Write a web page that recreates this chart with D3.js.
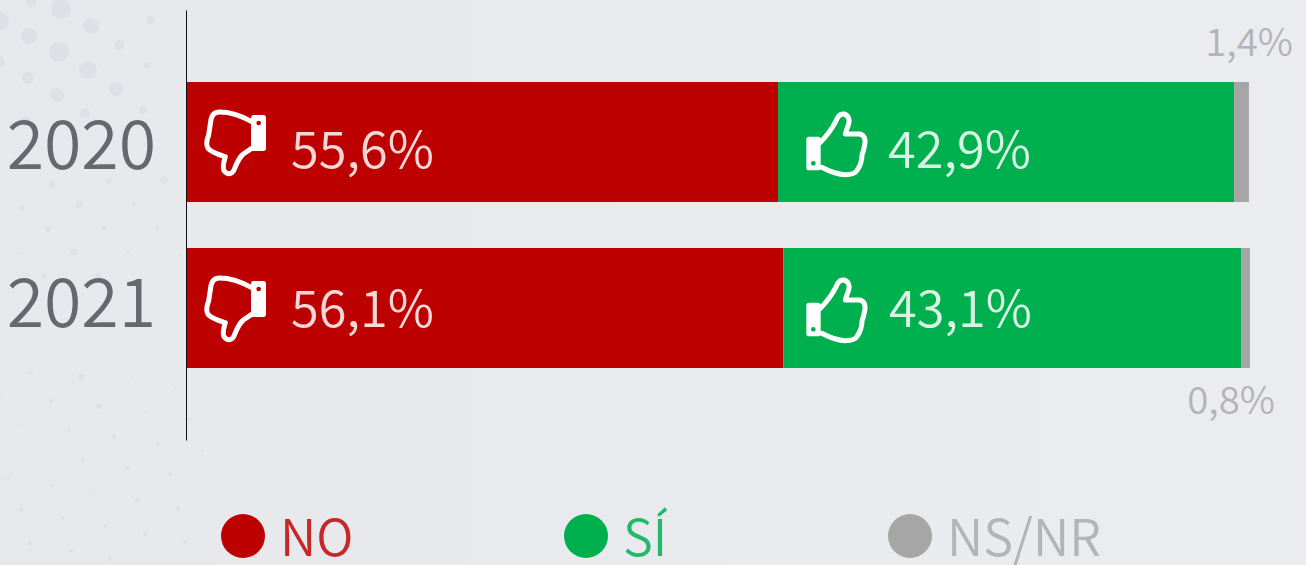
<!DOCTYPE html>
<html><head><meta charset="utf-8">
<style>
html,body{margin:0;padding:0;background:#e8e9ed;overflow:hidden}
svg{display:block}
text{font-family:"Noto Sans CJK JP","Noto Sans",sans-serif;font-weight:350}
</style>
<script src="https://cdn.jsdelivr.net/npm/d3@7"></script>
</head><body><script>
const years = ["2020","2021"];
const noValues = [55.6,56.1];
const siValues = [42.9,43.1];
const nsValues = [1.4,0.8];
const noLabels = ["55,6%","56,1%"];
const siLabels = ["42,9%","43,1%"];
const nsLabels = ["1,4%","0,8%"];
const legendNames = ["NO","SÍ","NS/NR"];
const legendColors = ["#bd0000","#00b04f","#a6a6a6"];
const legendText = ["#c62828","#22b96a","#b3b4b8"];
const bgDots = [[31,1,6],[61,9,10],[0,21,9],[91,26,8],[150,20,4],[29,36,8],[59,52,10],[119,45,5],[0,62,5],[88,70,9],[147,65,3],[28,78,6],[57,95,7],[116,89,7],[85,113,5],[143,110,4],[26,121,5]];
const faintDots = [[52,184,3.5],[109,181,3],[164,180,4],[22,208,2.5],[79,205,3.5],[134,204,2],[48,229,3],[104,228,2.5],[157,229,2],[18,253,1.5],[74,252,3.5],[128,252,1.5],[180,255,1.5],[44,276,2.5],[98,276,3],[150,278,1],
[31,373,2],[81,377,3],[129,382,1.5],[175,388,1],[1,397,1],[51,401,2],[99,406,3],[145,412,1.5],[189,419,1.5],[21,425,1],[69,430,2],[114,437,2.5],[158,444,2],[38,454,1],[83,461,2],[127,468,2],[170,474,2],[202,451,1.5],[8,478,2],[52,485,1.5],[95,493,1.5],[137,501,2.5],[211,484,1],[21,510,2.5],[63,518,2],[105,526,2],[145,534,2.5],[178,509,2.5],[30,543,2.5],[71,551,2],[110,559,2],[185,542,2]];
const W=1306,H=565;
const svg=d3.select("body").append("svg").attr("width",W).attr("height",H);
const grad=svg.append("defs").append("linearGradient").attr("id","bg").attr("x1",0).attr("x2",1);
grad.append("stop").attr("offset",0).attr("stop-color","#e7e8ec");
grad.append("stop").attr("offset",1).attr("stop-color","#ebecf0");
svg.append("rect").attr("width",W).attr("height",H).attr("fill","url(#bg)");
svg.append("g").selectAll("circle").data(bgDots).join("circle")
  .attr("cx",d=>d[0]).attr("cy",d=>d[1]).attr("r",d=>d[2]).attr("fill","#dfe0e5");
svg.append("g").selectAll("circle").data(faintDots).join("circle")
  .attr("cx",d=>d[0]).attr("cy",d=>d[1]).attr("r",d=>d[2]).attr("fill","#e0e1e6");

const x=d3.scaleLinear().domain([0,100]).range([187,1250]);
const y=d3.scaleBand().domain(years).range([10,440]).paddingInner(46/166).paddingOuter(72/166);
const series=[{v:noValues,c:legendColors[0]},{v:siValues,c:legendColors[1]},{v:nsValues,c:legendColors[2]}];
series.forEach((s,si)=>{
  svg.append("g").selectAll("rect").data(years).join("rect")
    .attr("x",(d,i)=>{let a=0;for(let k=0;k<si;k++)a+=series[k].v[i];return x(a);})
    .attr("y",d=>y(d)).attr("height",y.bandwidth())
    .attr("width",(d,i)=>x(s.v[i])-x(0)).attr("fill",s.c);
});
const axis=svg.append("g").attr("transform","translate(186,0)").call(d3.axisLeft(y).tickSize(0).tickPadding(30));
axis.select(".domain").attr("stroke","#111").attr("stroke-width",1);
axis.selectAll("text").attr("font-size",68).attr("fill","#66686d").attr("font-family",null).attr("dy",(d,i)=>i==0?"0.40em":"0.28em");

const downHand="M215 125 C185 108 150 96 118 96 C100 96 94 108 92 125 C90 140 88 150 86 165 C80 180 78 195 84 205 C95 218 120 225 136 230 C132 245 126 258 132 272 C140 284 155 285 162 270 C170 250 175 235 190 222 L215 205";
const upHand="M150 158 C168 140 185 118 197 95 C203 78 210 70 222 72 C236 76 240 90 236 102 C232 115 228 122 226 132 L268 132 C284 134 288 150 284 165 C282 175 280 185 276 195 C276 210 272 225 262 240 C256 252 240 254 225 254 C205 254 180 245 155 232";
function downIcon(g){
  g.append("path").attr("d",downHand).attr("fill","none").attr("stroke","#fff").attr("stroke-width",15).attr("stroke-linecap","round").attr("stroke-linejoin","round");
  g.append("rect").attr("x",213).attr("y",105).attr("width",45).attr("height",108).attr("rx",8).attr("fill","#fff");
  g.append("circle").attr("cx",236).attr("cy",129).attr("r",7).attr("fill","#bd0000");
}
function upIcon(g){
  g.append("path").attr("d",upHand).attr("fill","none").attr("stroke","#fff").attr("stroke-width",15).attr("stroke-linecap","round").attr("stroke-linejoin","round");
  g.append("rect").attr("x",109).attr("y",140).attr("width",43).attr("height",101).attr("rx",8).attr("fill","#fff");
  g.append("circle").attr("cx",130).attr("cy",220).attr("r",7).attr("fill","#00b04f");
}
years.forEach((yr,i)=>{
  const dy=y(yr)-y(years[0]);
  downIcon(svg.append("g").attr("transform",`translate(180,${80+dy}) scale(${1/3})`));
  upIcon(svg.append("g").attr("transform",`translate(770,${90+dy}) scale(${1/3})`));
});
const labelY=d3.scalePoint().domain(years).range([168,327]);
svg.append("g").selectAll("text").data(noLabels).join("text")
  .attr("x",291).attr("y",(d,i)=>labelY(years[i])).text(d=>d)
  .attr("font-size",50.5).attr("fill","#fff").attr("fill-opacity",.85);
svg.append("g").selectAll("text").data(siLabels).join("text")
  .attr("x",(d,i)=>888+i).attr("y",(d,i)=>labelY(years[i])).text(d=>d)
  .attr("font-size",50.5).attr("fill","#fff").attr("fill-opacity",.85);
svg.append("g").selectAll("text").data(nsLabels).join("text")
  .attr("x",(d,i)=>i==0?1293:1275).attr("y",(d,i)=>i==0?56:414).attr("text-anchor","end").text(d=>d)
  .attr("font-size",38.5).attr("fill",legendText[2]);
const lx=d3.scaleOrdinal().domain(legendNames).range([243,586,910]);
const lg=svg.append("g").selectAll("g").data(legendNames).join("g").attr("transform",d=>`translate(${lx(d)},536)`);
lg.append("circle").attr("r",22).attr("fill",(d,i)=>legendColors[i]);
lg.append("text").attr("x",37).attr("y",20).text(d=>d).attr("font-size",50.5).attr("fill",(d,i)=>legendText[i]);
</script></body></html>
